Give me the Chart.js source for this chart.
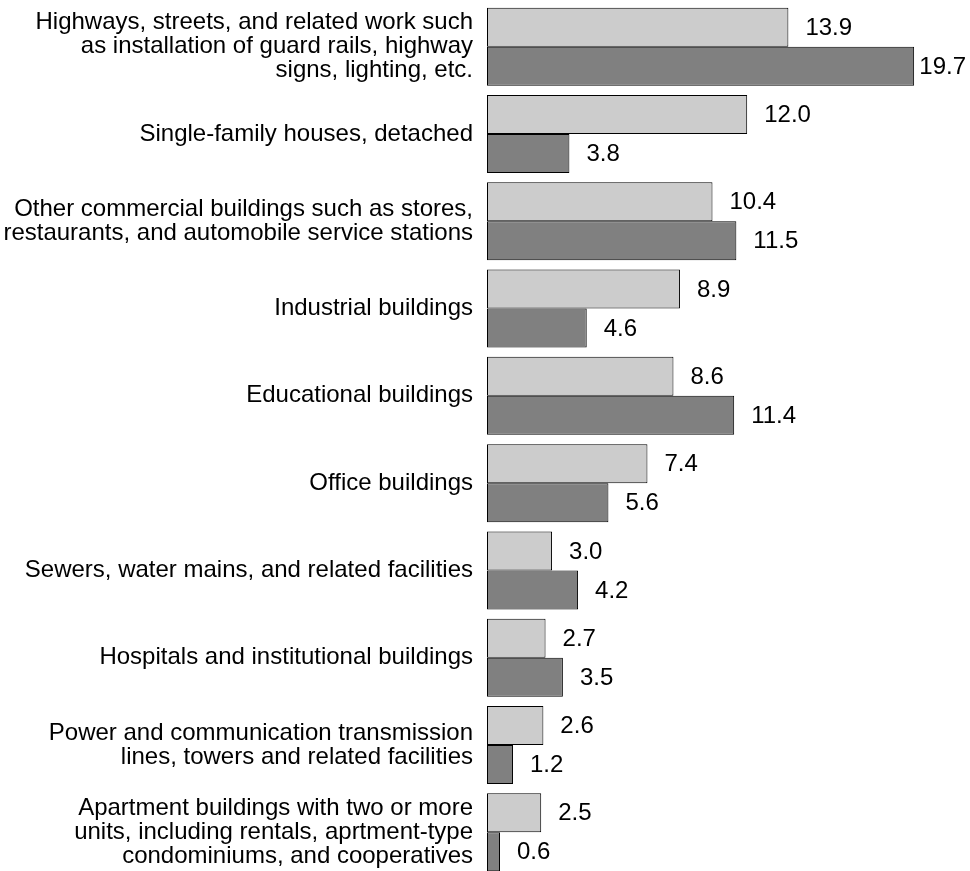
<!DOCTYPE html>
<html>
<head>
<meta charset="utf-8">
<script src="https://cdn.jsdelivr.net/npm/chart.js@4.4.0/dist/chart.umd.min.js"></script>
<style>
  html, body { margin: 0; padding: 0; background: #fff; overflow: hidden; }
  #chart { display: block; }
</style>
</head>
<body>
<canvas id="chart" width="970" height="876"></canvas>
<script>
// categories (multi-line labels) and the two series
const categories = [
  ['Highways, streets, and related work such', 'as installation of guard rails, highway', 'signs, lighting, etc.'],
  'Single-family houses, detached',
  ['Other commercial buildings such as stores,', 'restaurants, and automobile service stations'],
  'Industrial buildings',
  'Educational buildings',
  'Office buildings',
  'Sewers, water mains, and related facilities',
  'Hospitals and institutional buildings',
  ['Power and communication transmission', 'lines, towers and related facilities'],
  ['Apartment buildings with two or more', 'units, including rentals, aprtment-type', 'condominiums, and cooperatives']
];
const lightValues = [13.9, 12.0, 10.4, 8.9, 8.6, 7.4, 3.0, 2.7, 2.6, 2.5];
const darkValues = [19.7, 3.8, 11.5, 4.6, 11.4, 5.6, 4.2, 3.5, 1.2, 0.6];

const FONT = '"Liberation Sans", Arial, Helvetica, sans-serif';

// draws the value next to each bar (kept inside the canvas)
const valueLabels = {
  id: 'valueLabels',
  afterDatasetsDraw(chart) {
    const ctx = chart.ctx;
    ctx.save();
    ctx.font = '24px ' + FONT;
    ctx.fillStyle = '#000';
    ctx.textAlign = 'left';
    ctx.textBaseline = 'middle';
    chart.data.datasets.forEach((ds, i) => {
      chart.getDatasetMeta(i).data.forEach((bar, j) => {
        const txt = ds.data[j].toFixed(1);
        const w = ctx.measureText(txt).width;
        const x = Math.min(bar.x + 17, chart.width - 4 - w);
        ctx.fillText(txt, x, bar.y + 1);
      });
    });
    ctx.restore();
  }
};

new Chart(document.getElementById('chart'), {
  type: 'bar',
  data: {
    labels: categories,
    datasets: [
      {
        data: lightValues,
        backgroundColor: '#cccccc',
        borderColor: '#000',
        borderWidth: 1,
        borderSkipped: false
      },
      {
        data: darkValues,
        backgroundColor: '#808080',
        borderColor: '#000',
        borderWidth: 1,
        borderSkipped: false
      }
    ]
  },
  options: {
    indexAxis: 'y',
    responsive: false,
    animation: false,
    devicePixelRatio: 1,
    layout: { padding: { top: 3, right: 6, bottom: 0, left: 0 } },
    datasets: {
      bar: { barPercentage: 1, categoryPercentage: 0.893 }
    },
    plugins: {
      legend: { display: false },
      tooltip: { enabled: false }
    },
    scales: {
      x: {
        display: false,
        min: 0,
        max: 22
      },
      y: {
        afterFit(scale) {
          scale.width = 487;
          scale.paddingTop = 0;
          scale.paddingBottom = 0;
        },
        grid: { display: false, drawTicks: false },
        border: { display: false },
        ticks: {
          padding: 14,
          color: '#000',
          font: { family: FONT, size: 24, lineHeight: '24px' }
        }
      }
    }
  },
  plugins: [valueLabels]
});
</script>
</body>
</html>
